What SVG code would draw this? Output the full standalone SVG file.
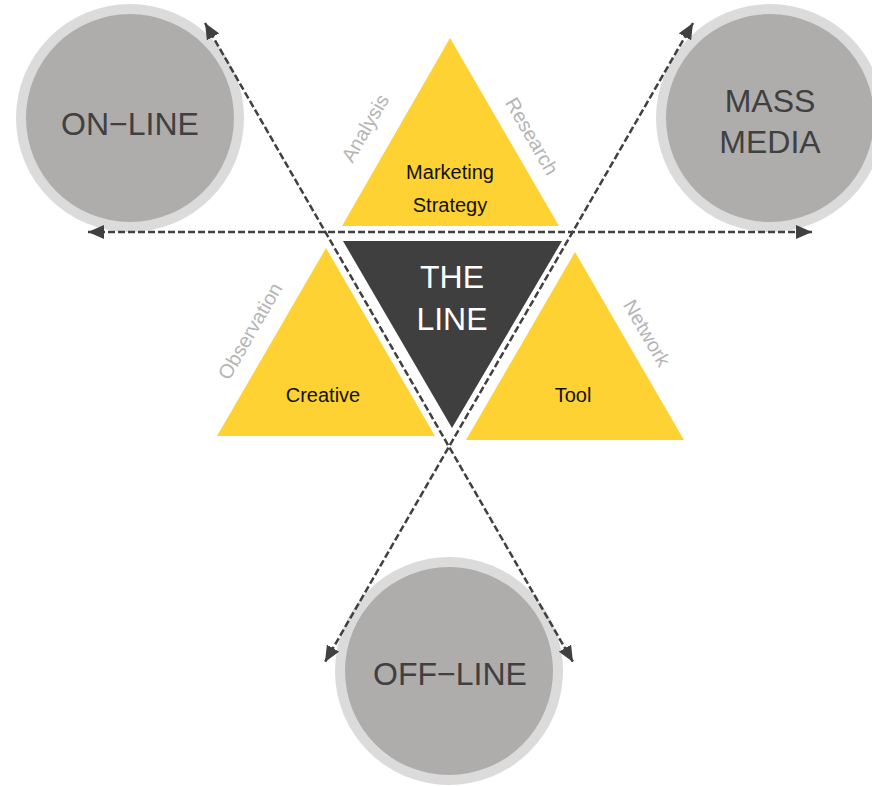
<svg xmlns="http://www.w3.org/2000/svg" width="872" height="786" viewBox="0 0 872 786">
<defs>
<style>
.ring{fill:#dcdbdb}
.core{fill:#aeadac}
.big{font-family:"Liberation Sans",Arial,sans-serif;font-size:32px;fill:#404040;text-anchor:middle}
.yel{fill:#fdd232}
.dark{fill:#3f3f3f}
.lbl{font-family:"Liberation Sans",Arial,sans-serif;font-size:20px;fill:#111;text-anchor:middle}
.white{font-family:"Liberation Sans",Arial,sans-serif;font-size:32px;fill:#ffffff;text-anchor:middle}
.side{font-family:"Liberation Sans",Arial,sans-serif;font-size:20px;fill:#b5b5b5;text-anchor:middle}
.dash{fill:none;stroke:#404040;stroke-width:2.5;stroke-dasharray:7 3}
</style>
<marker id="arr" viewBox="0 0 16 14" refX="16" refY="7" markerWidth="16" markerHeight="14" markerUnits="userSpaceOnUse" orient="auto-start-reverse">
<path d="M0,0 L16,7 L0,14 Z" fill="#404040"/>
</marker>
</defs>
<rect width="872" height="786" fill="#ffffff"/>
<g id="online">
<circle class="ring" cx="130" cy="118" r="114"/>
<circle class="core" cx="130" cy="118" r="104"/>
<text class="big" x="130" y="135">ON−LINE</text>
</g>
<g id="massmedia">
<circle class="ring" cx="770" cy="118" r="114"/>
<circle class="core" cx="770" cy="118" r="104"/>
<text class="big" x="770" y="112">MASS</text>
<text class="big" x="770" y="153">MEDIA</text>
</g>
<g id="offline">
<circle class="ring" cx="449" cy="671" r="114"/>
<circle class="core" cx="449" cy="671" r="104"/>
<text class="big" x="450" y="685">OFF−LINE</text>
</g>
<g id="marketing">
<polygon class="yel" points="450,38 559,226 342,226"/>
<text class="lbl" x="450" y="179">Marketing</text>
<text class="lbl" x="450" y="212">Strategy</text>
</g>
<g id="theline">
<polygon class="dark" points="343,241 562,241 452,428"/>
<text class="white" x="452" y="288">THE</text>
<text class="white" x="452" y="330">LINE</text>
</g>
<g id="creative">
<polygon class="yel" points="326,248 435,436 217,436"/>
<text class="lbl" x="323" y="402">Creative</text>
</g>
<g id="tool">
<polygon class="yel" points="575,252 684,440 466,440"/>
<text class="lbl" x="573" y="402">Tool</text>
</g>
<g id="side-labels">
<text class="side" transform="translate(365,128) rotate(-60)" y="7">Analysis</text>
<text class="side" transform="translate(532,136) rotate(60)" y="7">Research</text>
<text class="side" transform="translate(250,331) rotate(-60)" y="7">Observation</text>
<text class="side" transform="translate(647,333) rotate(60)" y="7">Network</text>
</g>
<g id="connectors">
<line class="dash" x1="88" y1="232" x2="812" y2="232" marker-start="url(#arr)" marker-end="url(#arr)"/>
<line class="dash" x1="205" y1="23" x2="573" y2="662" marker-start="url(#arr)" marker-end="url(#arr)"/>
<line class="dash" x1="693" y1="23" x2="325" y2="662" marker-start="url(#arr)" marker-end="url(#arr)"/>
</g>
</svg>
